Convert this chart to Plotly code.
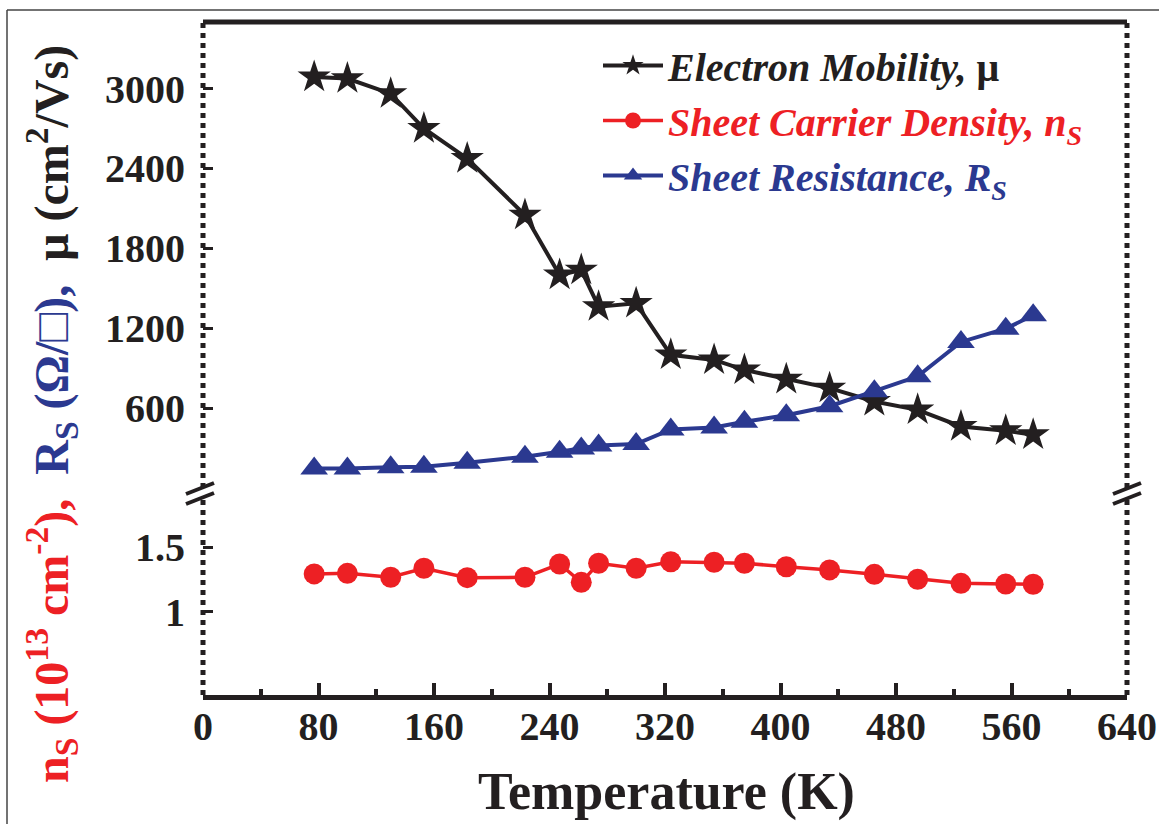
import plotly.graph_objects as go

# ---- data ----
temperature = [77, 100, 130, 153, 183, 223, 247, 262, 274, 300,
               324, 354, 375, 404, 434, 465, 495, 525, 556, 575]
mobility = [3087, 3075, 2962, 2700, 2475, 2050, 1600, 1637, 1362, 1387,
            1000, 962, 887, 817, 750, 650, 587, 462, 430, 400]
sheet_density = [1.293, 1.298, 1.267, 1.337, 1.264, 1.267, 1.370, 1.228, 1.376, 1.337,
                 1.388, 1.384, 1.376, 1.349, 1.324, 1.290, 1.252, 1.220, 1.215, 1.213]
sheet_resistance = [146, 146, 155, 160, 190, 235, 272, 297, 320, 330,
                    440, 455, 497, 547, 614, 727, 839, 1097, 1197, 1297]

x_ticks = [0, 80, 160, 240, 320, 400, 480, 560, 640]
upper_ticks = [600, 1200, 1800, 2400, 3000]
lower_ticks = [1, 1.5]

BLACK = "#231f20"
RED = "#ed2024"
BLUE = "#2b3990"
FONT = "Liberation Serif"

W, H = 1159, 824
L, R, T, B = 203, 32, 22, 129
PW = W - L - R
PH = H - T - B


def px(xp):
    return (xp - L) / PW


def py(yp):
    return (H - B - yp) / PH


fig = go.Figure()

fig.add_trace(go.Scatter(
    x=temperature, y=mobility, yaxis="y2", mode="lines+markers",
    name="Electron Mobility, <span style='font-style:normal'>μ</span>",
    legendgroup="a",
    line=dict(color=BLACK, width=4),
    marker=dict(symbol="star", size=25, color=BLACK),
))
fig.add_trace(go.Scatter(
    x=temperature, y=sheet_density, yaxis="y", mode="lines+markers",
    name="<span style='color:%s'>Sheet Carrier Density, n<sub>S</sub></span>" % RED,
    legendgroup="b",
    line=dict(color=RED, width=3.5),
    marker=dict(symbol="circle", size=21, color=RED),
))
fig.add_trace(go.Scatter(
    x=temperature, y=sheet_resistance, yaxis="y2", mode="lines+markers",
    name="<span style='color:%s'>Sheet Resistance, R<sub>S</sub></span>" % BLUE,
    legendgroup="c",
    line=dict(color=BLUE, width=4),
    marker=dict(symbol="triangle-up", size=24, color=BLUE),
))

tickfont = dict(family=FONT, size=40, color=BLACK, weight="bold")

upper_bottom = py(488)
lower_top = py(495)

fig.update_layout(
    width=W, height=H,
    margin=dict(l=L, r=R, t=T, b=B, autoexpand=False),
    paper_bgcolor="white", plot_bgcolor="white",
    showlegend=True,
    legend=dict(
        x=px(598), y=py(33), xanchor="left", yanchor="top",
        bgcolor="rgba(0,0,0,0)",
        font=dict(family=FONT, size=40, color=BLACK, weight="bold", style="italic"),
        tracegroupgap=0,
        itemwidth=60,
    ),
    xaxis=dict(
        range=[0, 640], tickvals=x_ticks, ticktext=[str(v) for v in x_ticks],
        anchor="y", showgrid=False, zeroline=False, automargin=False,
        showline=True, linecolor=BLACK, linewidth=5,
        ticks="inside", ticklen=12, tickwidth=4, tickcolor=BLACK,
        minor=dict(dtick=40, tick0=0, ticks="inside", ticklen=6, tickwidth=4, tickcolor=BLACK),
        tickfont=tickfont, ticklabelstandoff=-8,
    ),
    yaxis=dict(
        domain=[0, lower_top], range=[0.353, 1.906],
        tickvals=lower_ticks, ticktext=["1", "1.5"],
        showgrid=False, zeroline=False, showline=False, automargin=False,
        ticks="inside", ticklen=10, tickwidth=3, tickcolor=BLACK,
        tickfont=tickfont, anchor="x", ticklabelstandoff=17,
    ),
    yaxis2=dict(
        domain=[upper_bottom, 1], range=[0, 3500],
        tickvals=upper_ticks, ticktext=[str(v) for v in upper_ticks],
        showgrid=False, zeroline=False, showline=False, automargin=False,
        ticks="inside", ticklen=10, tickwidth=3, tickcolor=BLACK,
        tickfont=tickfont, anchor="x", ticklabelstandoff=17,
    ),
)

shapes = []
# dotted spines (left/right, upper and lower panels)
for xs in (0, 1):
    for (y0, y1) in ((upper_bottom, 1), (0, lower_top)):
        shapes.append(dict(type="line", xref="paper", yref="paper", x0=xs, x1=xs, y0=y0, y1=y1,
                           line=dict(color=BLACK, width=5, dash="dot")))
# top frame
shapes.append(dict(type="line", xref="paper", yref="paper", x0=0, x1=1, y0=1, y1=1,
                   line=dict(color=BLACK, width=5)))
# axis-break marks
for xc in (200, 1127):
    for dy in (0, 10):
        shapes.append(dict(type="line", xref="paper", yref="paper",
                           x0=px(xc - 14), y0=py(494 + dy), x1=px(xc + 14), y1=py(483 + dy),
                           line=dict(color=BLACK, width=4)))
# thin outer border of the figure image
shapes.append(dict(type="line", xref="paper", yref="paper", x0=px(7), x1=px(1159), y0=py(10), y1=py(10),
                   line=dict(color="#444", width=1.5)))
shapes.append(dict(type="line", xref="paper", yref="paper", x0=px(7), x1=px(7), y0=py(10), y1=py(824),
                   line=dict(color="#444", width=1.5)))
fig.update_layout(shapes=shapes)

ytitle = ("<span style='color:%s'>n<sub>S</sub> (10<sup>13</sup> cm<sup>-2</sup>), </span>"
          "<span style='color:%s'> R<sub>S</sub> (Ω/□), </span>"
          " μ (cm<sup>2</sup>/Vs)") % (RED, BLUE)
fig.add_annotation(
    text=ytitle, textangle=-90, xref="paper", yref="paper",
    x=px(52), y=py(414), xanchor="center", yanchor="middle", showarrow=False,
    font=dict(family=FONT, size=48, color=BLACK, weight="bold"),
)
fig.add_annotation(
    text="Temperature (K)", xref="paper", yref="paper",
    x=px(666), y=py(792), xanchor="center", yanchor="middle", showarrow=False,
    font=dict(family=FONT, size=52, color=BLACK, weight="bold"),
)

fig.write_html("out.html", config={"displayModeBar": False},
               post_script="document.body.style.margin='0';document.body.style.padding='0';")
